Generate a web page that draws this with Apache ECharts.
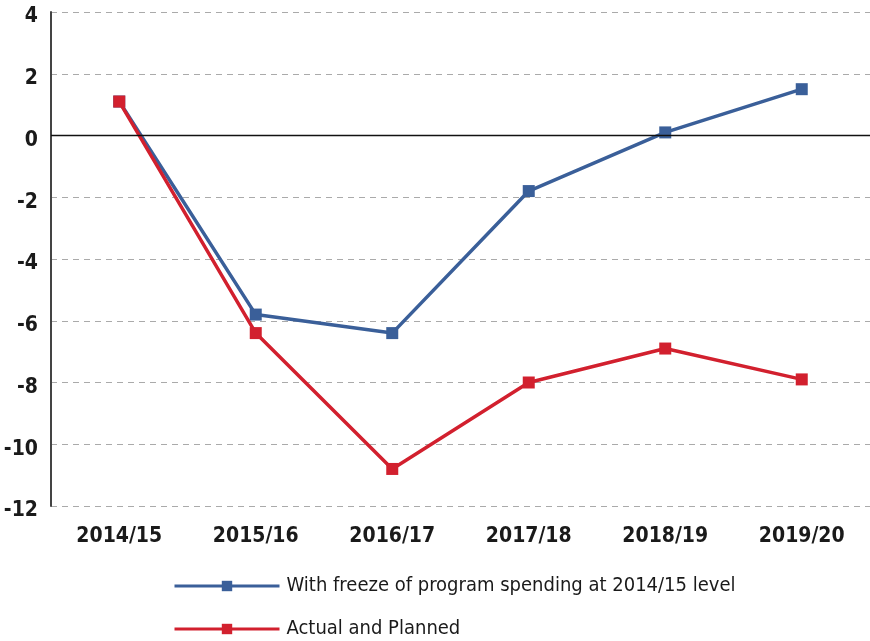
<!DOCTYPE html>
<html>
<head>
<meta charset="utf-8">
<script src="https://cdn.jsdelivr.net/npm/echarts@6/dist/echarts.min.js"></script>
<style>
  html, body { margin: 0; padding: 0; background: #fff; }
  #main { width: 870px; height: 641px; }
</style>
</head>
<body>
<div id="main"></div>
<script>
var categories = ["2014/15", "2015/16", "2016/17", "2017/18", "2018/19", "2019/20"];
var freezeValues = [1.1, -5.8, -6.4, -1.8, 0.1, 1.5];
var actualValues = [1.1, -6.4, -10.8, -8.0, -6.9, -7.9];
var seriesNames = ["With freeze of program spending at 2014/15 level", "Actual and Planned"];

var font = '"Liberation Sans Narrow", "DejaVu Sans Condensed", "Roboto", sans-serif';
var blue = "#3a5f99";
var red = "#d2202e";

var myChart = echarts.init(document.getElementById("main"));
var option = {
  animation: false,
  grid: { left: 51, top: 12, right: -7, bottom: 135 },
  legend: {
    orient: "vertical",
    left: 168,
    bottom: -3,
    itemWidth: 105,
    itemHeight: 13,
    itemGap: 23,
    lineStyle: { width: 3 },
    textStyle: { fontFamily: font, fontSize: 20, color: "#1a1a1a", padding: [0, 0, 0, 2] },
    data: seriesNames
  },
  xAxis: {
    type: "category",
    data: categories,
    boundaryGap: true,
    axisLine: { show: false },
    axisTick: { show: false },
    axisLabel: { margin: 20, fontFamily: font, fontSize: 21, fontWeight: "bold", color: "#1a1a1a" }
  },
  yAxis: {
    type: "value",
    min: -12,
    max: 4,
    interval: 2,
    axisLine: { show: true, lineStyle: { color: "#444", width: 2 } },
    axisTick: { show: false },
    axisLabel: { margin: 13, verticalAlign: "top", lineHeight: 10, fontFamily: font, fontSize: 21, fontWeight: "bold", color: "#1a1a1a" },
    splitLine: { show: true, lineStyle: { color: "#aaa", type: [6, 5], width: 1 } }
  },
  series: [
    {
      name: seriesNames[0],
      type: "line",
      data: freezeValues,
      symbol: "rect",
      symbolSize: 12,
      lineStyle: { color: blue, width: 3.5 },
      itemStyle: { color: blue },
      z: 2,
      markLine: {
        silent: true,
        symbol: "none",
        label: { show: false },
        lineStyle: { color: "#111", type: "solid", width: 1.3 },
        data: [{ yAxis: 0 }]
      }
    },
    {
      name: seriesNames[1],
      type: "line",
      data: actualValues,
      symbol: "rect",
      symbolSize: 12,
      lineStyle: { color: red, width: 3.5 },
      itemStyle: { color: red },
      z: 3
    }
  ]
};
myChart.setOption(option);
</script>
</body>
</html>
